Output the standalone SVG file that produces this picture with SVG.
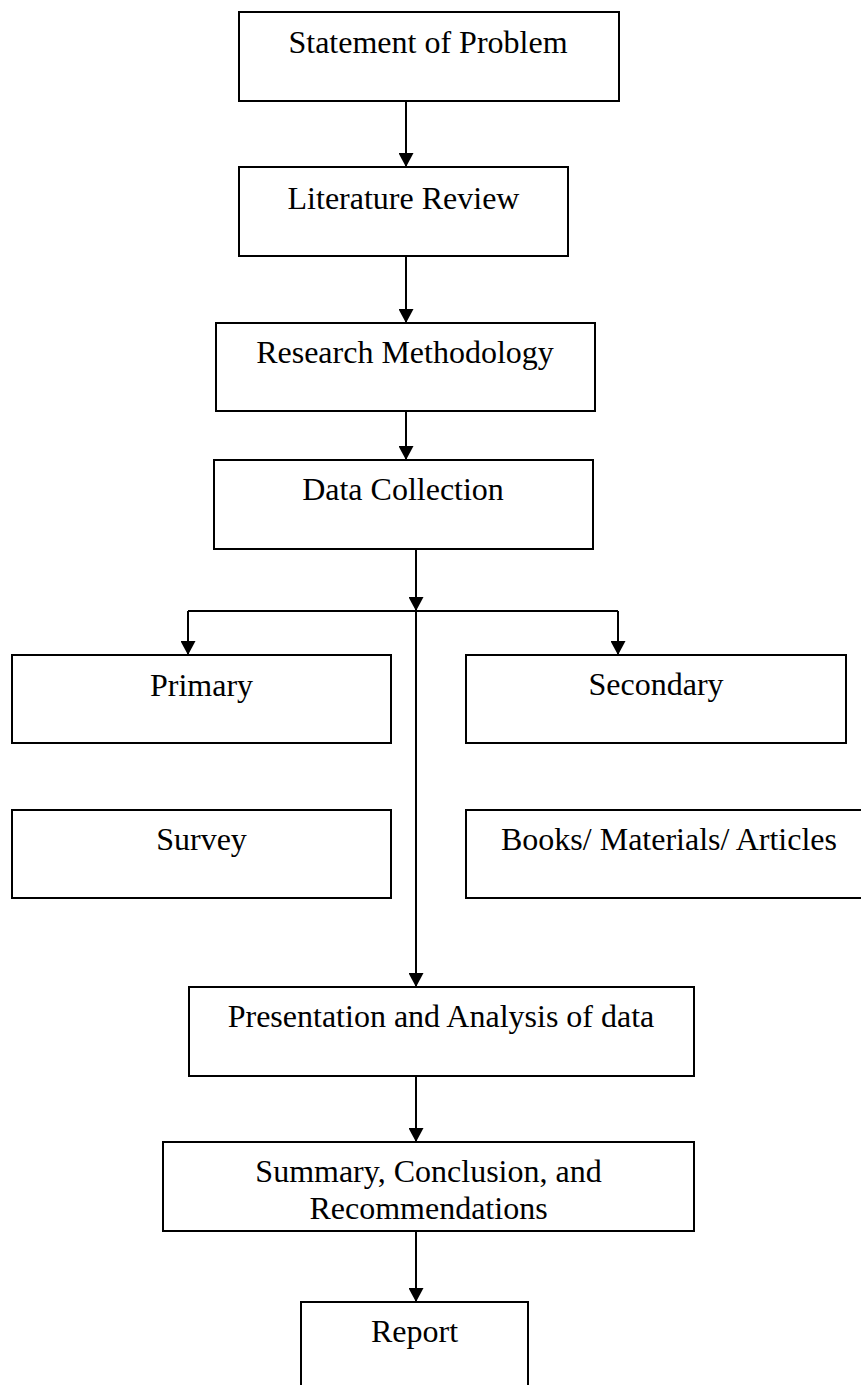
<svg xmlns="http://www.w3.org/2000/svg" width="861" height="1385" viewBox="0 0 861 1385">
  <defs>
    <style>
      .box { fill: #ffffff; stroke: #000000; stroke-width: 2; }
      .lbl { font-family: "Liberation Serif", "Times New Roman", serif; font-size: 32px; fill: #000000; text-anchor: middle; }
      .conn { stroke: #000000; stroke-width: 2; fill: none; }
    </style>
    <marker id="arrow" markerUnits="userSpaceOnUse" markerWidth="14" markerHeight="15" refX="14" refY="7.5" orient="auto">
      <path d="M0,0 L14,7.5 L0,15 Z" fill="#000000"/>
    </marker>
  </defs>
  <rect x="0" y="0" width="861" height="1385" fill="#ffffff"/>

  <g id="connectors">
    <line class="conn" x1="406" y1="101" x2="406" y2="167" marker-end="url(#arrow)"/>
    <line class="conn" x1="406" y1="256" x2="406" y2="323" marker-end="url(#arrow)"/>
    <line class="conn" x1="406" y1="411" x2="406" y2="460" marker-end="url(#arrow)"/>
    <line class="conn" x1="416" y1="544" x2="416" y2="611" marker-end="url(#arrow)"/>
    <line class="conn" x1="416" y1="611" x2="416" y2="987" marker-end="url(#arrow)"/>
    <line class="conn" x1="188" y1="611" x2="618" y2="611"/>
    <line class="conn" x1="188" y1="611" x2="188" y2="655" marker-end="url(#arrow)"/>
    <line class="conn" x1="618" y1="611" x2="618" y2="655" marker-end="url(#arrow)"/>
    <line class="conn" x1="416" y1="1076" x2="416" y2="1142" marker-end="url(#arrow)"/>
    <line class="conn" x1="416" y1="1231" x2="416" y2="1302" marker-end="url(#arrow)"/>
  </g>

  <g id="statement">
    <rect class="box" x="239" y="12" width="380" height="89"/>
    <text class="lbl" x="428" y="53">Statement of Problem</text>
  </g>
  <g id="literature">
    <rect class="box" x="239" y="167" width="329" height="89"/>
    <text class="lbl" x="403.5" y="209">Literature Review</text>
  </g>
  <g id="methodology">
    <rect class="box" x="216" y="323" width="379" height="88"/>
    <text class="lbl" x="405" y="363">Research Methodology</text>
  </g>
  <g id="collection">
    <rect class="box" x="214" y="460" width="379" height="89"/>
    <text class="lbl" x="403" y="500">Data Collection</text>
  </g>
  <g id="primary">
    <rect class="box" x="12" y="655" width="379" height="88"/>
    <text class="lbl" x="201.5" y="696">Primary</text>
  </g>
  <g id="secondary">
    <rect class="box" x="466" y="655" width="380" height="88"/>
    <text class="lbl" x="656" y="695">Secondary</text>
  </g>
  <g id="survey">
    <rect class="box" x="12" y="810" width="379" height="88"/>
    <text class="lbl" x="201.5" y="850">Survey</text>
  </g>
  <g id="books">
    <rect class="box" x="466" y="810" width="406" height="88"/>
    <text class="lbl" x="669" y="850">Books/ Materials/ Articles</text>
  </g>
  <g id="presentation">
    <rect class="box" x="189" y="987" width="505" height="89"/>
    <text class="lbl" x="441" y="1027">Presentation and Analysis of data</text>
  </g>
  <g id="summary">
    <rect class="box" x="163" y="1142" width="531" height="89"/>
    <text class="lbl" x="428.5" y="1182">Summary, Conclusion, and</text>
    <text class="lbl" x="428.5" y="1219">Recommendations</text>
  </g>
  <g id="report">
    <rect class="box" x="301" y="1302" width="227" height="100"/>
    <text class="lbl" x="414.5" y="1342">Report</text>
  </g>
</svg>
